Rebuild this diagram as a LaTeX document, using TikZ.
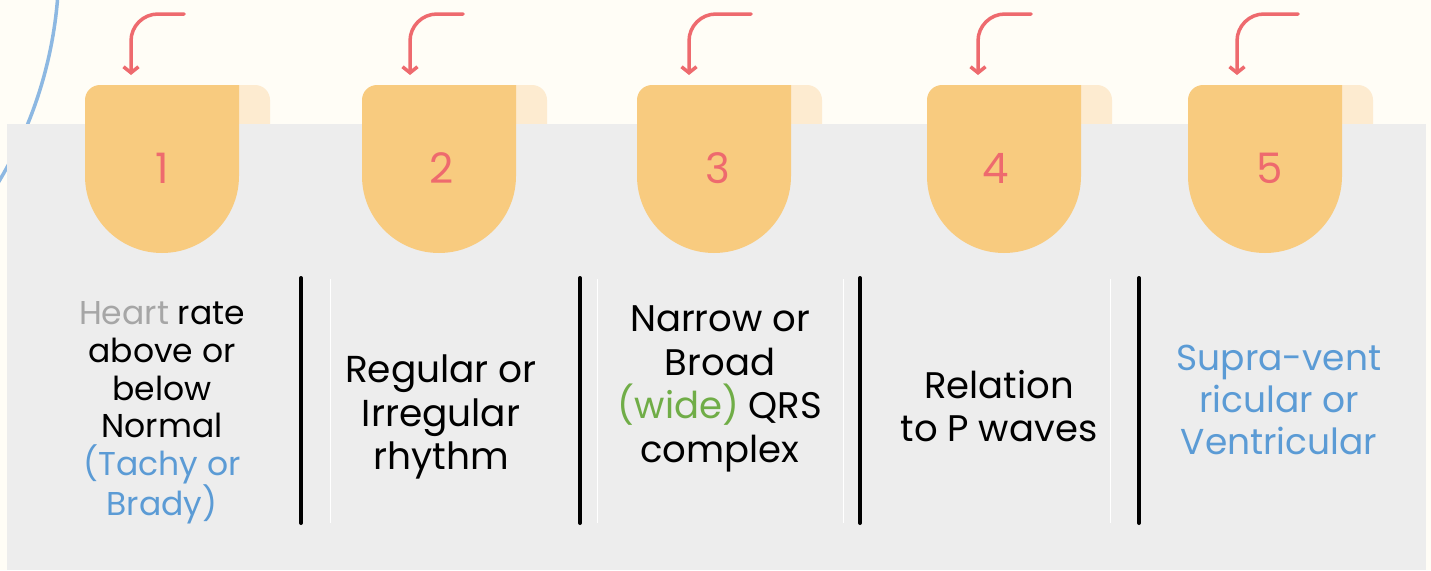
\documentclass[tikz,border=0pt]{standalone}
\usepackage{fontspec}
\setmainfont{Poppins}
\usetikzlibrary{arrows.meta}
\definecolor{cream}{HTML}{FFFDF6}
\definecolor{panel}{HTML}{EDEDED}
\definecolor{tabor}{HTML}{F8CB7F}
\definecolor{flapc}{HTML}{FDEBD0}
\definecolor{redc}{HTML}{EE6A6E}
\definecolor{arcblue}{HTML}{8DB8E2}
\definecolor{txtblue}{HTML}{5B9BD5}
\definecolor{txtgreen}{HTML}{70AD47}
\definecolor{txtgray}{HTML}{A6A6A6}
\begin{document}
\begin{tikzpicture}[x=1pt,y=-1pt,
  tabshape/.style={fill=tabor},
  flapshape/.style={fill=flapc,rounded corners=15pt},
  numlabel/.style={text=redc,font=\fontsize{42}{42}\selectfont,inner sep=0pt},
  bodytext/.style={align=center,font=\fontsize{37}{43.5}\selectfont,inner sep=0pt,text=black},
  smalltext/.style={bodytext,font=\fontsize{33}{37.6}\selectfont},
  curvearrow/.style={draw=redc,line width=3.5pt,line cap=round,rounded corners=27pt,-{Straight Barb[length=6pt,width=15pt]}},
  divider/.style={line width=4pt,line cap=round,black},
  ghost/.style={line width=1pt,white}
]
\useasboundingbox (0,0) rectangle (1431,570);
\fill[cream] (0,0) rectangle (1431,570);
\begin{scope}
  \clip (0,0) rectangle (1431,570);
  \draw[arcblue,line width=3.5pt] (-364,-36) circle[radius=423];
\end{scope}
% back flaps
\foreach \L in {85,362,637,927,1188}{
  \fill[flapshape] (\L+130,85) rectangle (\L+185,150);
}
% panel
\fill[panel] (7,124) rectangle (1426,570);
% tabs, numbers, arrows
\foreach \L/\n/\nx/\ax/\ex in {85/1/162/131/184, 362/2/442/410/463, 637/3/718/689/751, 927/4/996/978/1031, 1188/5/1270/1237/1298}{
  \fill[tabshape] (\L,176) -- (\L,100) arc(180:270:15) -- (\L+154,85) -- (\L+154,176) arc(0:180:77) -- cycle;
  \node[numlabel] (n\n) at (\nx,168) {\n};
  \coordinate (as\n) at (\ex,14);
  \coordinate (ae\n) at (\ax,75);
  \draw[curvearrow] (as\n) -| (ae\n);
}
% dividers
\foreach \x in {301,580,860,1139}{
  \draw[divider] (\x,278) -- (\x,523);
}
\foreach \x in {330,597,843,1110}{
  \draw[ghost] (\x,279) -- (\x,523);
}
% texts
\node[smalltext] (t1) at (162,413) {\textcolor{txtgray}{Heart} rate\\above or\\below\\Normal\\\textcolor{txtblue}{(Tachy or}\\\textcolor{txtblue}{Brady)}};
\node[bodytext,font=\fontsize{37.5}{43.5}\selectfont] (t2) at (441,417) {Regular or\\Irregular\\rhythm};
\node[bodytext] (t3) at (720,389) {Narrow or\\Broad\\\textcolor{txtgreen}{(wide)} QRS\\complex};
\node[bodytext] (t4) at (999,406) {Relation\\to P waves};
\node[bodytext,font=\fontsize{36}{41.7}\selectfont,text=txtblue] (t5) at (1279,400) {Supra-vent\\ricular or\\Ventricular};
\end{tikzpicture}
\end{document}
